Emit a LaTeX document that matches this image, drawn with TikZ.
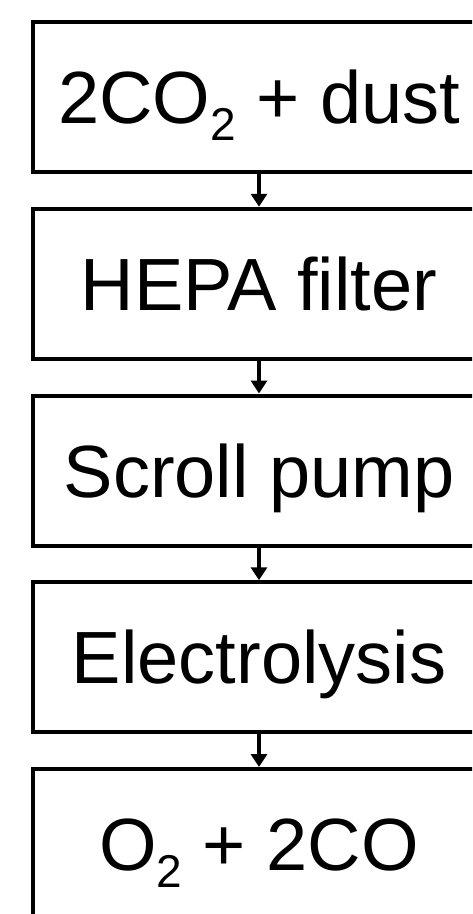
\documentclass[tikz,border=0pt]{standalone}
\usepackage{fontspec}
\setmainfont{Liberation Sans}
\usetikzlibrary{positioning,arrows.meta}

\newcommand{\chemsub}[1]{\raisebox{-17pt}{\fontsize{46}{46}\selectfont #1}}

\begin{document}
\begin{tikzpicture}[node distance=32.75pt,>={Triangle[width=16pt,length=13pt]}]
    % one box per stage, arrows in between
    \tikzstyle{stage}=[rectangle,draw=black,line width=4pt,minimum width=452pt,
    minimum height=150pt,inner sep=0pt,text height=53pt,text depth=0pt,
    font=\fontsize{74}{88}\selectfont]
    \tikzstyle{flow}=[line width=3.5pt]

    \useasboundingbox (0,0) rectangle (472pt,-914pt);
    \clip (0,0) rectangle (472pt,-914pt);

    \node [stage] (dust)     at (259pt,-97pt) {2CO\chemsub{2} + dust};
    \node [stage] (hepa)     [below=of dust] {HEPA filter};
    \node [stage] (pump)     [below=of hepa] {Scroll pump};
    \node [stage] (electro)  [below=of pump] {Electrolysis};
    \node [stage] (products) [below=of electro] {O\chemsub{2} + 2CO};

    \path (dust) edge [->,flow] (hepa);
    \path (hepa) edge [->,flow] (pump);
    \path (pump) edge [->,flow] (electro);
    \path (electro) edge [->,flow] (products);

\end{tikzpicture}
\end{document}
